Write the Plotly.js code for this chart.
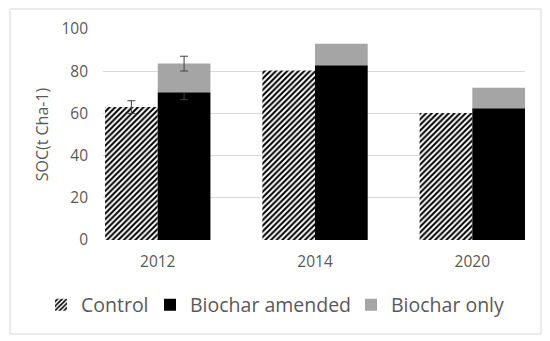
<!DOCTYPE html>
<html><head><meta charset="utf-8">
<script src="https://cdn.plot.ly/plotly-3.0.1.min.js"></script>
<style>html,body{margin:0;padding:0;background:#fff}#chart{width:550px;height:341px}</style>
</head><body><div id="chart"></div>
<script>
const years = ['2012', '2014', '2020'];
const control = [63, 80.3, 60.2];
const biocharAmended = [70, 82.8, 62.4];
const biocharOnly = [13.6, 10.2, 9.8];
const controlErr = [3, NaN, NaN];
const amendedErr = [3.5, NaN, NaN];
const onlyErr = [3.5, NaN, NaN];
const yTicks = [0, 20, 40, 60, 80, 100];

const W = 0.335;
const textColor = '#595959';
const errStyle = {type: 'data', visible: true, color: '#404040', thickness: 1, width: 4};

const traces = [
  {
    type: 'bar', name: 'Control', x: years, y: control, legend: 'legend',
    width: W, offset: -W,
    marker: {color: '#ffffff', line: {width: 0},
      pattern: {shape: '/', fgcolor: '#000000', bgcolor: '#ffffff', size: 4, solidity: 0.5}},
    error_y: Object.assign({array: controlErr}, errStyle)
  },
  {
    type: 'bar', name: 'Biochar amended', x: years, y: biocharAmended, legend: 'legend2',
    width: W, offset: 0,
    marker: {color: '#000000', line: {width: 0}},
    error_y: Object.assign({array: amendedErr}, errStyle)
  },
  {
    type: 'bar', name: 'Biochar only', x: years, y: biocharOnly, base: biocharAmended, legend: 'legend3',
    width: W, offset: 0,
    marker: {color: '#a5a5a5', line: {width: 0}},
    error_y: Object.assign({array: onlyErr}, errStyle)
  }
];

const L = 103, R = 25, T = 29, B = 101, Wd = 550, Ht = 341;
const pw = Wd - L - R, ph = Ht - T - B;
const px2x = p => (p - L) / pw;
const px2y = p => (Ht - B - p) / ph;

function legendAt(leftPx) {
  return {
    orientation: 'h', xref: 'container', yref: 'container',
    x: leftPx / Wd, xanchor: 'left', y: (Ht - 305) / Ht, yanchor: 'middle',
    font: {size: 19.5, color: textColor}, bgcolor: 'rgba(0,0,0,0)', itemwidth: 30
  };
}

const layout = {
  width: Wd, height: Ht,
  margin: {l: L, r: R, t: T, b: B, pad: 0},
  paper_bgcolor: '#ffffff', plot_bgcolor: '#ffffff',
  font: {family: 'Open Sans, sans-serif', color: textColor, size: 15},
  barmode: 'overlay',
  showlegend: true,
  xaxis: {
    type: 'category', range: [-0.348, 2.335],
    showgrid: false, zeroline: false, showline: false, ticks: '',
    ticklabelstandoff: 10,
    tickfont: {size: 15.5, color: textColor}, fixedrange: true, automargin: false
  },
  yaxis: {
    range: [0, 100], tickvals: yTicks, ticktext: yTicks.map(String),
    showgrid: true, gridcolor: '#d9d9d9', gridwidth: 1,
    zeroline: false, showline: false, ticks: '',
    ticklabelstandoff: 14,
    tickfont: {size: 15.5, color: textColor},
    title: {text: 'SOC(t Cha-1)', font: {size: 16, color: textColor}, standoff: 8},
    automargin: false, fixedrange: true
  },
  legend: legendAt(41),
  legend2: legendAt(150),
  legend3: legendAt(351),
  shapes: [{
    type: 'rect', xref: 'paper', yref: 'paper',
    x0: px2x(10), x1: px2x(541), y0: px2y(334), y1: px2y(9),
    line: {color: '#d9d9d9', width: 1}, fillcolor: 'rgba(0,0,0,0)', layer: 'below'
  }]
};

Plotly.newPlot('chart', traces, layout, {displayModeBar: false, staticPlot: true});
</script></body></html>
